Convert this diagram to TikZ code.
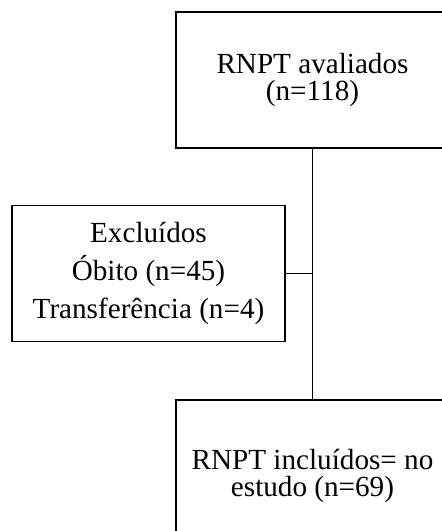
\documentclass[tikz,border=0pt]{standalone}
\usepackage{fontspec}
\setmainfont{Liberation Serif}
\usetikzlibrary{positioning,calc}

\begin{document}
\begin{tikzpicture}[
    x=0.02cm, y=-0.02cm,
    stagebox/.style={draw, line width=1.1pt, minimum width=5.46cm, minimum height=2.72cm, align=center, font=\fontsize{16.6}{15.4}\selectfont},
    exclbox/.style={stagebox, font=\fontsize{16.6}{21.6}\selectfont},
    link/.style={draw, line width=1.1pt}
]

% Fix the page size
\useasboundingbox (0,0) rectangle (442,531);
\clip (0,0) rectangle (442,531);

% Define node positions
\node[stagebox] (eval) at (312.5, 80) {RNPT avaliados\\(n=118)};
\node[exclbox] (excl) at (148.5, 273.5) {Excluídos\\Óbito (n=45)\\Transferência (n=4)};
\node[stagebox, minimum height=3.04cm] (incl) at (312.5, 476) {RNPT incluídos= no\\estudo (n=69)};

% Join point on the main line
\coordinate (join) at (excl.east -| eval.south);

% Draw connectors
\draw[link] (eval) -- (incl);
\draw[link] (excl) -- (join);

\end{tikzpicture}
\end{document}
